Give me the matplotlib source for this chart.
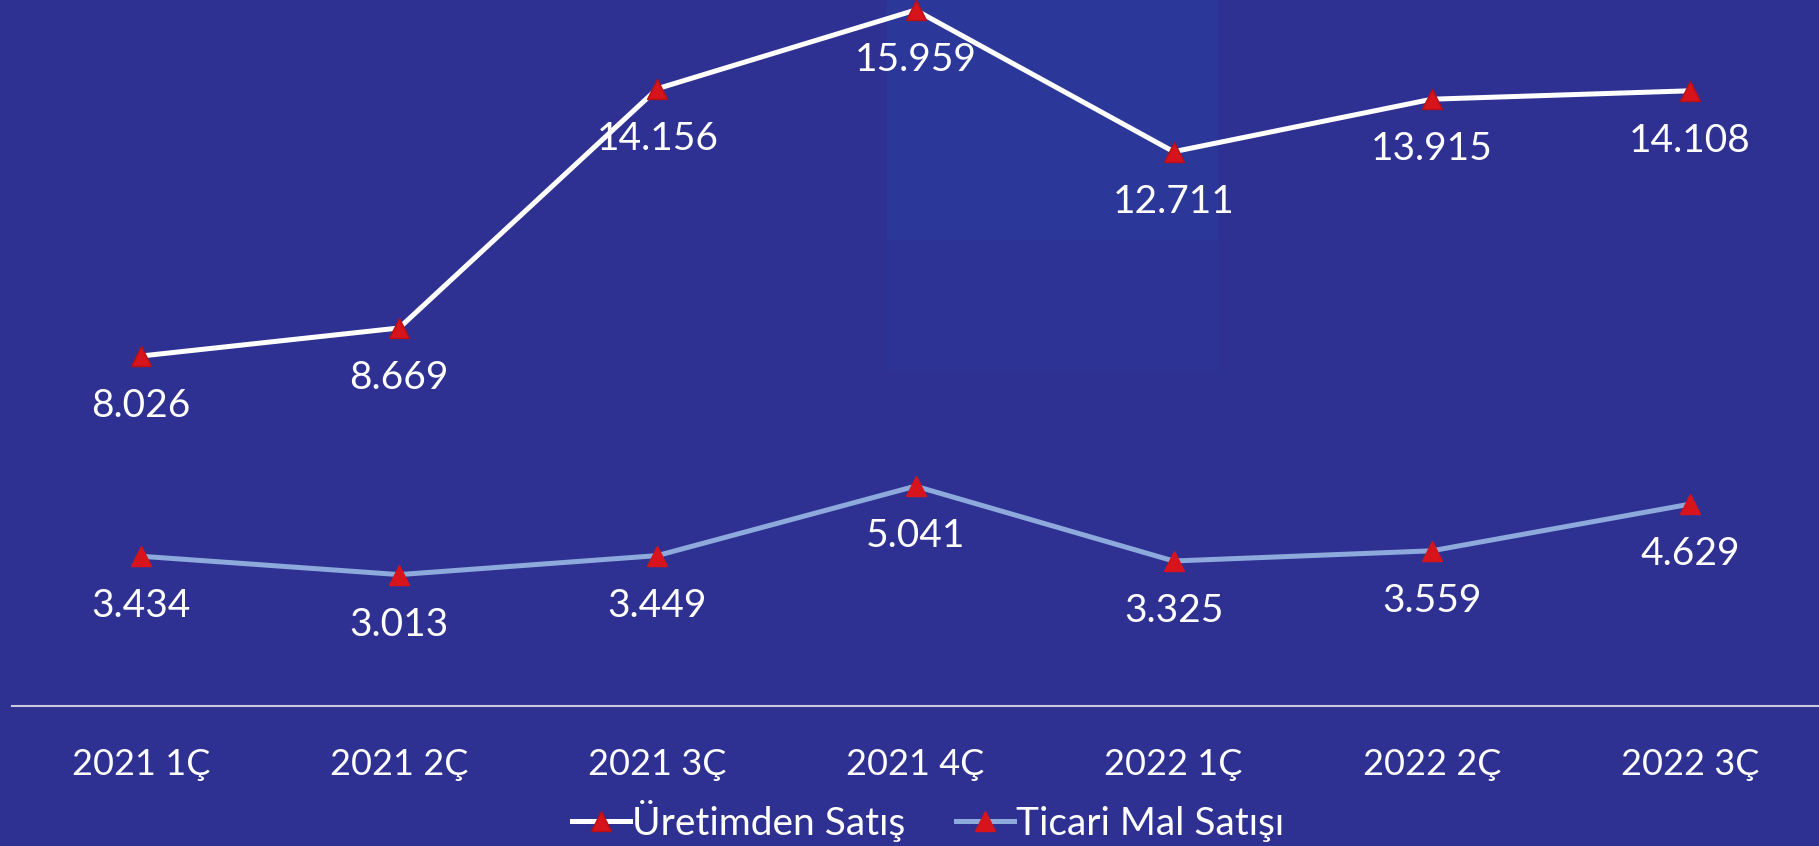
import matplotlib.pyplot as plt
from matplotlib.patches import Rectangle

quarters = ['2021 1Ç', '2021 2Ç', '2021 3Ç', '2021 4Ç', '2022 1Ç', '2022 2Ç', '2022 3Ç']
uretim = [8.026, 8.669, 14.156, 15.959, 12.711, 13.915, 14.108]
ticari = [3.434, 3.013, 3.449, 5.041, 3.325, 3.559, 4.629]
uretim_labels = ['8.026', '8.669', '14.156', '15.959', '12.711', '13.915', '14.108']
ticari_labels = ['3.434', '3.013', '3.449', '5.041', '3.325', '3.559', '4.629']

bg = '#2E3192'
font = 'Lato'

fig = plt.figure(figsize=(18.19, 8.46), dpi=100, facecolor=bg)

# faint lighter panel behind the peak (background decoration)
fig.patches.append(Rectangle((887/1819, 1 - 240/846), 330/1819, 240/846,
                             transform=fig.transFigure, color='#2B3899', zorder=-5))
fig.patches.append(Rectangle((887/1819, 1 - 370/846), 330/1819, 130/846,
                             transform=fig.transFigure, color='#2D3394', zorder=-5))

ax = fig.add_axes([12/1819, 1 - 706/846, 1 - 12/1819, 706/846])
ax.set_facecolor('none')
ax.set_zorder(1)
x = list(range(len(quarters)))

ax.plot(x, uretim, color='white', lw=3.6, marker='^', ms=14,
        mfc='#D7141C', mec='#B80F15', mew=1, label='Üretimden Satış', zorder=3)
ax.plot(x, ticari, color='#8EA9DB', lw=3.6, marker='^', ms=14,
        mfc='#D7141C', mec='#D7141C', mew=1, label='Ticari Mal Satışı', zorder=3)

for i in x:
    ax.annotate(uretim_labels[i], (i, uretim[i]), xytext=(0, -36), textcoords='offset points',
                ha='center', va='center', color='white', fontsize=28, family=font)
    ax.annotate(ticari_labels[i], (i, ticari[i]), xytext=(0, -36), textcoords='offset points',
                ha='center', va='center', color='white', fontsize=28, family=font)

ax.set_xlim(-0.5, 6.5)
ax.set_ylim(0, 16.19)
ax.set_xticks(x)
ax.set_xticklabels(quarters, color='white', fontsize=26, family=font)
ax.tick_params(axis='x', length=0, pad=30)
ax.set_yticks([])
for s in ['top', 'right', 'left']:
    ax.spines[s].set_visible(False)
ax.spines['bottom'].set_color('#C8C8D8')
ax.spines['bottom'].set_linewidth(1.5)

leg = fig.legend(loc='center', bbox_to_anchor=(928/1819, 1 - 821/846), ncol=2,
                 frameon=False, handlelength=1.5, handletextpad=0.05, columnspacing=1.3,
                 prop={'family': font, 'size': 28})
for t in leg.get_texts():
    t.set_color('white')

fig.savefig('out.png', dpi=100, facecolor=bg)
